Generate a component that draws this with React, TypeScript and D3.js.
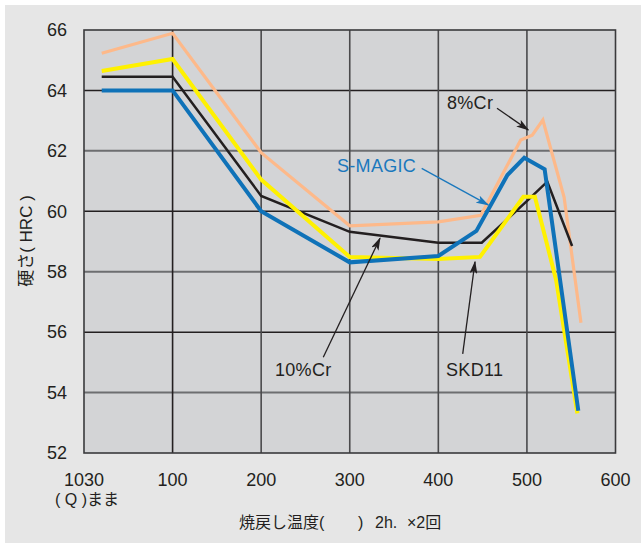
import React from "react";
import * as d3 from "d3";

// ---- data (temperature °C, hardness HRC) ----
const xTickValues = [0, 100, 200, 300, 400, 500, 600];
const xTickLabels = ["1030", "100", "200", "300", "400", "500", "600"];
const yTickValues = [52, 54, 56, 58, 60, 62, 64, 66];

const temps8Cr = [20, 100, 200, 300, 400, 448, 493, 506, 518, 542, 561];
const hrc8Cr = [65.23, 65.89, 61.94, 59.52, 59.65, 59.87, 62.36, 62.52, 63.02, 60.46, 56.31];

const tempsSKD11 = [20, 100, 200, 300, 400, 449, 499, 523, 551];
const hrcSKD11 = [64.45, 64.45, 60.51, 59.32, 58.96, 58.96, 60.31, 60.98, 58.85];

const temps10Cr = [20, 100, 200, 300, 400, 447, 496, 509, 533, 557];
const hrc10Cr = [64.64, 65.04, 61.05, 58.49, 58.42, 58.49, 60.48, 60.48, 57.72, 53.31];

const tempsSMagic = [20, 100, 200, 300, 400, 443, 478, 497, 520, 558];
const hrcSMagic = [64.0, 64.0, 60.0, 58.31, 58.52, 59.35, 61.2, 61.77, 61.39, 53.4];

type Series = { name: string; temps: number[]; hrc: number[]; color: string; width: number };
const series: Series[] = [
  { name: "8%Cr", temps: temps8Cr, hrc: hrc8Cr, color: "#fdb98a", width: 3.2 },
  { name: "SKD11", temps: tempsSKD11, hrc: hrcSKD11, color: "#231f20", width: 2.5 },
  { name: "10%Cr", temps: temps10Cr, hrc: hrc10Cr, color: "#fff100", width: 4 },
  { name: "S-MAGIC", temps: tempsSMagic, hrc: hrcSMagic, color: "#0f72b8", width: 4 },
];

// annotations in data units: label anchor + arrow from/to
const annotations = [
  { text: "8%Cr", tx: 409.8, ty: 63.385, fx: 466.2, fy: 63.41, ax: 501.6, ay: 62.69, color: "#231f20", marker: "arrK" },
  { text: "S-MAGIC", tx: 285.6, ty: 61.3, fx: 381.2, fy: 61.42, ax: 456.4, ay: 60.21, color: "#1a78bd", marker: "arrB" },
  { text: "10%Cr", tx: 215.6, ty: 54.55, fx: 270.1, fy: 55.17, ax: 334.2, ay: 59.11, color: "#231f20", marker: "arrK" },
  { text: "SKD11", tx: 408.7, ty: 54.55, fx: 427.5, fy: 55.28, ax: 441.4, ay: 58.33, color: "#231f20", marker: "arrK" },
];

const W = 641;
const H = 543;
const left = 84, right = 615.5, top = 30, bottom = 453;

export default function App() {
  const x = d3.scaleLinear().domain([0, 600]).range([left, right]);
  const y = d3.scaleLinear().domain([52, 66]).range([bottom, top]);
  const line = d3.line<[number, number]>().x((d) => x(d[0])).y((d) => y(d[1]));
  const font = "'Liberation Sans', Arial, 'Noto Sans CJK JP', sans-serif";
  const txt = "#231f20";

  return (
    <svg width={W} height={H} style={{ position: "absolute", left: 0, top: 0, display: "block" }} fontFamily={font}>
      <defs>
        <marker id="arrK" markerUnits="userSpaceOnUse" markerWidth="13" markerHeight="8" refX="12" refY="4" orient="auto">
          <path d="M0,0 L13,4 L0,8 L3,4 Z" fill="#231f20" />
        </marker>
        <marker id="arrB" markerUnits="userSpaceOnUse" markerWidth="13" markerHeight="8" refX="12" refY="4" orient="auto">
          <path d="M0,0 L13,4 L0,8 L3,4 Z" fill="#1a78bd" />
        </marker>
      </defs>
      <rect x={0} y={0} width={W} height={H} fill="#ffffff" />
      <rect x={5} y={5} width={W - 5} height={H - 5} fill="#e6e6e6" />
      <rect x={left} y={top} width={right - left} height={bottom - top} fill="#d3d4d6" />

      {/* grid */}
      {yTickValues.slice(1, -1).map((v, i) => (
        <line key={"h" + v} x1={left} x2={right} y1={y(v)} y2={y(v)}
          stroke={i % 2 === 0 ? "#6d6e70" : "#231f20"} strokeWidth={i % 2 === 0 ? 2 : 1.5} />
      ))}
      {xTickValues.slice(1, -1).map((v, i) => (
        <line key={"v" + v} x1={x(v)} x2={x(v)} y1={top} y2={bottom}
          stroke={i === 0 ? "#231f20" : "#4a4a4c"} strokeWidth={1.6} />
      ))}
      <rect x={left} y={top} width={right - left} height={bottom - top} fill="none" stroke="#3a3a3c" strokeWidth={1.6} />

      {/* series */}
      {series.map((s) => (
        <path key={s.name} d={line(s.temps.map((t, i) => [t, s.hrc[i]] as [number, number])) || ""}
          fill="none" stroke={s.color} strokeWidth={s.width} strokeLinejoin="miter" />
      ))}

      {/* annotations */}
      {annotations.map((a) => (
        <g key={a.text}>
          <line x1={x(a.fx)} y1={y(a.fy)} x2={x(a.ax)} y2={y(a.ay)} stroke={a.color} strokeWidth={1.3} markerEnd={`url(#${a.marker})`} />
          <text x={x(a.tx)} y={y(a.ty)} fontSize={18} fill={a.color} letterSpacing={0.3}>{a.text}</text>
        </g>
      ))}

      {/* y ticks */}
      {yTickValues.map((v) => (
        <text key={"yt" + v} x={67} y={y(v)} dy="0.35em" textAnchor="end" fontSize={18} fill={txt}>{v}</text>
      ))}
      {/* x ticks */}
      {xTickValues.map((v, i) => (
        <text key={"xt" + v} x={x(v)} y={486} textAnchor="middle" fontSize={18} fill={txt}>{xTickLabels[i]}</text>
      ))}
      <text x={55} y={505} fontSize={16} fill={txt} style={{ whiteSpace: "pre" }}>{"( Q )まま"}</text>

      {/* axis titles */}
      <text fontSize={16} fill={txt} y={528}>
        <tspan x={239}>焼戻し温度(</tspan>
        <tspan x={358}>)</tspan>
        <tspan x={375}>2h.</tspan>
        <tspan x={407}>×2回</tspan>
      </text>
      <text transform="translate(32,241) rotate(-90)" textAnchor="middle" fontSize={17} fill={txt} style={{ whiteSpace: "pre" }}>{"硬さ( HRC )"}</text>
    </svg>
  );
}
